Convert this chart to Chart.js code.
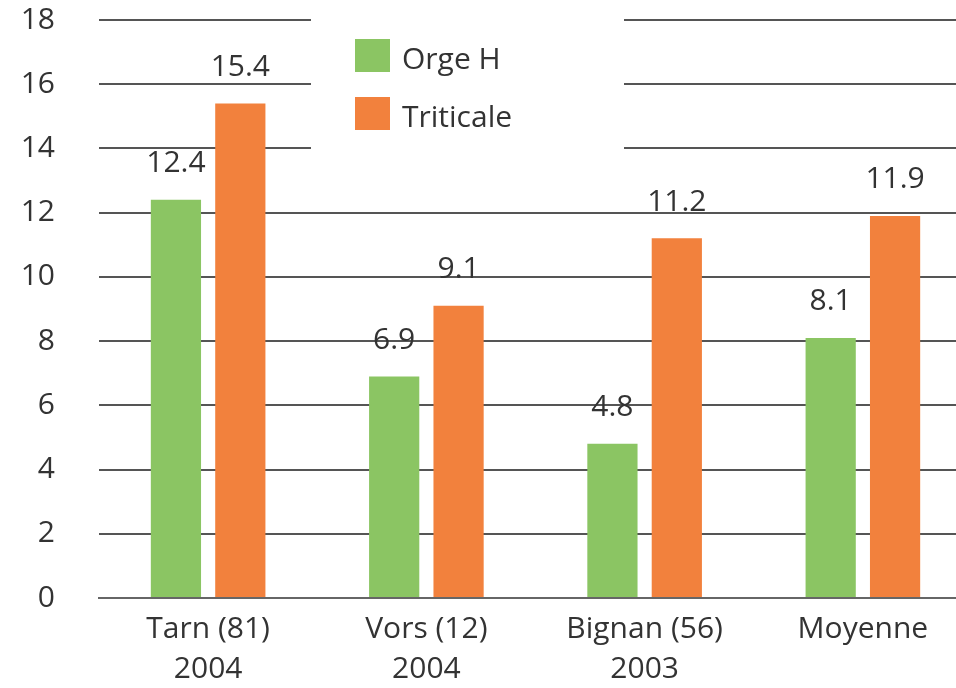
<!DOCTYPE html>
<html>
<head>
<meta charset="utf-8">
<script src="https://cdn.jsdelivr.net/npm/chart.js@4"></script>
<style>
  html, body { margin: 0; padding: 0; background: #fff; overflow: hidden; }
  #wrap { width: 972px; height: 688px; }
</style>
</head>
<body>
<div id="wrap"><canvas id="chart" width="972" height="688"></canvas></div>
<script>
const categories = [['Tarn (81)', '2004'], ['Vors (12)', '2004'], ['Bignan (56)', '2003'], 'Moyenne'];
const seriesNames = ['Orge H', 'Triticale'];
const orgeValues = [12.4, 6.9, 4.8, 8.1];
const triticaleValues = [15.4, 9.1, 11.2, 11.9];
const yTicks = [0, 2, 4, 6, 8, 10, 12, 14, 16, 18];

const GREEN = '#8bc563';
const ORANGE = '#f2813d';
const TEXT = '#333333';
const FONT = '"Open Sans", sans-serif';

// white box over the top gridlines, with the legend in it
const legendBox = {
    id: 'legendBox',
    beforeDatasetsDraw(chart) {
        const ctx = chart.ctx;
        ctx.save();
        ctx.fillStyle = '#fff';
        ctx.fillRect(311, 0, 313, 168);
        ctx.font = '30px ' + FONT;
        ctx.textBaseline = 'middle';
        chart.data.datasets.forEach((ds, i) => {
            const y = 39 + i * 58;
            ctx.fillStyle = ds.backgroundColor;
            ctx.fillRect(355, y, 35, 33);
            ctx.fillStyle = TEXT;
            ctx.fillText(ds.label, 402, y + 21);
        });
        ctx.restore();
    }
};

const valueLabels = {
    id: 'valueLabels',
    afterDatasetsDraw(chart) {
        const ctx = chart.ctx;
        ctx.save();
        ctx.font = '30px ' + FONT;
        ctx.fillStyle = TEXT;
        ctx.textAlign = 'center';
        ctx.textBaseline = 'middle';
        chart.data.datasets.forEach((ds, i) => {
            chart.getDatasetMeta(i).data.forEach((bar, j) => {
                ctx.fillText(ds.data[j].toFixed(1), bar.x, bar.y - 36);
            });
        });
        ctx.restore();
    }
};

new Chart(document.getElementById('chart'), {
    type: 'bar',
    data: {
        labels: categories,
        datasets: [
            { label: seriesNames[0], data: orgeValues, backgroundColor: GREEN },
            { label: seriesNames[1], data: triticaleValues, backgroundColor: ORANGE }
        ]
    },
    options: {
        responsive: false,
        animation: false,
        categoryPercentage: 0.59,
        barPercentage: 0.78,
        layout: { padding: { left: 18, top: 20, right: 0, bottom: 0 } },
        plugins: {
            legend: { display: false },
            tooltip: { enabled: false }
        },
        scales: {
            x: {
                afterFit: axis => { axis.height = 90; axis.paddingLeft = 0; axis.paddingRight = 0; },
                grid: { display: false, drawTicks: false },
                border: { color: '#666', width: 2 },
                ticks: { color: TEXT, font: { family: FONT, size: 30, lineHeight: 1.33 }, padding: 12 }
            },
            y: {
                min: 0,
                max: 18,
                afterBuildTicks: axis => { axis.ticks = yTicks.map(v => ({ value: v })); },
                afterFit: axis => { axis.width = 81; axis.paddingTop = 0; axis.paddingBottom = 0; },
                grid: { color: '#555', lineWidth: 2, drawTicks: false },
                border: { display: false },
                ticks: { color: TEXT, font: { family: FONT, size: 30 }, padding: 44 }
            }
        }
    },
    plugins: [legendBox, valueLabels]
});
</script>
</body>
</html>
